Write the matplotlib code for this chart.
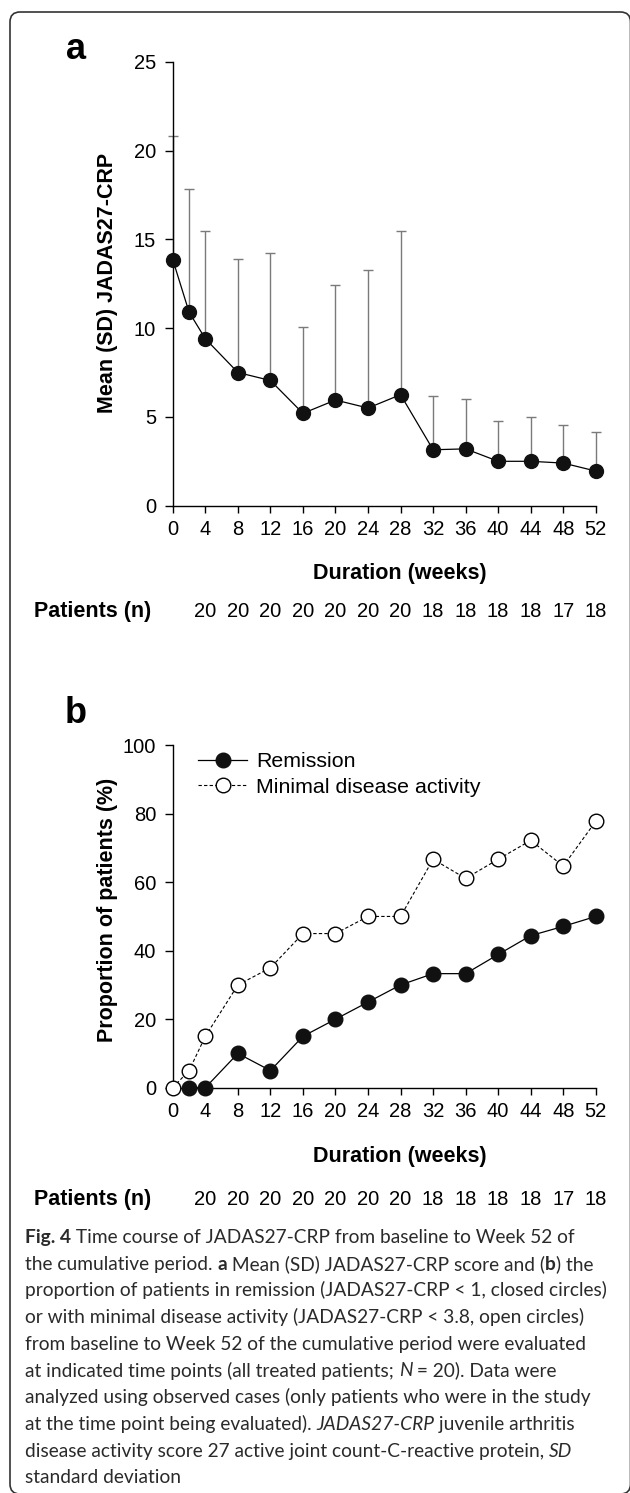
import numpy as np
import matplotlib.pyplot as plt
from matplotlib.patches import FancyBboxPatch
from matplotlib.transforms import blended_transform_factory, IdentityTransform

plt.rcParams['font.family'] = ['Liberation Sans', 'DejaVu Sans']

# data
weeks = [0, 2, 4, 8, 12, 16, 20, 24, 28, 32, 36, 40, 44, 48, 52]
jadas_mean = [13.85, 10.9, 9.4, 7.5, 7.05, 5.2, 5.95, 5.5, 6.25, 3.15, 3.2, 2.5, 2.5, 2.4, 1.95]
jadas_sd = [6.95, 6.95, 6.05, 6.4, 7.2, 4.85, 6.5, 7.75, 9.2, 3.05, 2.8, 2.25, 2.5, 2.15, 2.2]
remission_pct = [np.nan, 0, 0, 10, 5, 15, 20, 25, 30, 33.3, 33.3, 38.9, 44.4, 47.1, 50]
mda_pct = [0, 5, 15, 30, 35, 45, 45, 50, 50, 66.7, 61.1, 66.7, 72.2, 64.7, 77.8]
tick_weeks = [0, 4, 8, 12, 16, 20, 24, 28, 32, 36, 40, 44, 48, 52]
patient_weeks = [4, 8, 12, 16, 20, 24, 28, 32, 36, 40, 44, 48, 52]
patients_n = [20, 20, 20, 20, 20, 20, 20, 18, 18, 18, 18, 17, 18]

W, H = 630, 1493
fig = plt.figure(figsize=(W / 100, H / 100), dpi=100)
bold_size = 15.5


def fx(x):
    return x / W


def fy(y):
    return 1 - y / H


def style_axes(ax):
    for s in ['top', 'right']:
        ax.spines[s].set_visible(False)
    for s in ['left', 'bottom']:
        ax.spines[s].set_linewidth(1.0)
    ax.tick_params(axis='y', direction='out', length=6, width=1, pad=6, labelsize=14.5)
    ax.tick_params(axis='x', direction='out', length=5, width=1, pad=5, labelsize=14.5)
    ax.set_xlim(0, 52)
    ax.set_xticks(tick_weeks)


def patients_row(ax, y):
    tr = blended_transform_factory(ax.transData, fig.transFigure)
    fig.text(fx(34), fy(y), 'Patients (n)', fontsize=bold_size, fontweight='bold', va='baseline')
    for wk, n in zip(patient_weeks, patients_n):
        ax.text(wk, fy(y), str(n), transform=tr, ha='center', va='baseline', fontsize=14.5)


# panel a
ax_a = fig.add_axes([fx(172.8), fy(505.7), fx(423), 444 / H])
style_axes(ax_a)
ax_a.set_ylim(0, 25)
ax_a.set_yticks([0, 5, 10, 15, 20, 25])
ax_a.errorbar(weeks, jadas_mean, yerr=[np.zeros(len(jadas_sd)), jadas_sd], fmt='none',
              ecolor='#7a7a7a', elinewidth=1, capsize=3.6, capthick=1, zorder=2, clip_on=False)
ax_a.plot(weeks, jadas_mean, color='black', lw=0.9, marker='o', ms=10, mfc='#111111',
          mec='#111111', zorder=3, clip_on=False)
fig.text(fx(76), fy(59.3), 'a', fontsize=26, fontweight='bold', ha='center', va='baseline')
fig.text(fx(108), fy(283), 'Mean (SD) JADAS27-CRP', fontsize=bold_size, fontweight='bold',
         rotation=90, ha='center', va='center')
fig.text(fx(400), fy(579.3), 'Duration (weeks)', fontsize=bold_size, fontweight='bold',
         ha='center', va='baseline')
patients_row(ax_a, 616.7)

# panel b
ax_b = fig.add_axes([fx(172.8), fy(1087.7), fx(423), 342.5 / H])
style_axes(ax_b)
ax_b.set_ylim(0, 100)
ax_b.set_yticks([0, 20, 40, 60, 80, 100])
ax_b.plot(weeks, mda_pct, color='black', lw=0.8, ls=(0, (3, 2)), marker='o', ms=10.5,
          mfc='white', mec='black', mew=1, zorder=3, clip_on=False,
          label='Minimal disease activity')
ax_b.plot(weeks, remission_pct, color='black', lw=0.9, marker='o', ms=10.5, mfc='#111111',
          mec='#111111', zorder=4, clip_on=False, label='Remission')
handles, labels = ax_b.get_legend_handles_labels()
ax_b.legend(handles[::-1], labels[::-1], loc='upper left', bbox_to_anchor=(0.0596, 0.979),
            frameon=False, borderpad=0, borderaxespad=0, fontsize=15.4,
            handlelength=2.29, handletextpad=0.42, labelspacing=0.3, numpoints=1)
fig.text(fx(76), fy(722.7), 'b', fontsize=26, fontweight='bold', ha='center', va='baseline')
fig.text(fx(108), fy(910), 'Proportion of patients (%)', fontsize=bold_size, fontweight='bold',
         rotation=90, ha='center', va='center')
fig.text(fx(400), fy(1161.7), 'Duration (weeks)', fontsize=bold_size, fontweight='bold',
         ha='center', va='baseline')
patients_row(ax_b, 1205)

# caption, written segment by segment so bold / italic parts line up
cap_font = ['Lato', 'DejaVu Sans']
cap_size = 13.8
cap_color = '#2a2a2a'
caption = [
    [('Fig. 4', 'bold'), (' Time course of JADAS27-CRP from baseline to Week 52 of', '')],
    [('the cumulative period. ', ''), ('a', 'bold'), (' Mean (SD) JADAS27-CRP score and (', ''),
     ('b', 'bold'), (') the', '')],
    [('proportion of patients in remission (JADAS27-CRP < 1, closed circles)', '')],
    [('or with minimal disease activity (JADAS27-CRP < 3.8, open circles)', '')],
    [('from baseline to Week 52 of the cumulative period were evaluated', '')],
    [('at indicated time points (all treated patients; ', ''), ('N', 'italic'),
     (' = 20). Data were', '')],
    [('analyzed using observed cases (only patients who were in the study', '')],
    [('at the time point being evaluated). ', ''), ('JADAS27-CRP', 'italic'),
     (' juvenile arthritis', '')],
    [('disease activity score 27 active joint count-C-reactive protein, ', ''), ('SD', 'italic')],
    [('standard deviation', '')],
]

renderer = fig.canvas.get_renderer()


def text_kw(kind):
    kw = dict(family=cap_font, fontsize=cap_size, color=cap_color, va='baseline')
    if kind == 'bold':
        kw['fontweight'] = 'bold'
    if kind == 'italic':
        kw['fontstyle'] = 'italic'
    return kw


def seg_width(s, kind):
    t = fig.text(0, 0, '|' + s + '|', **text_kw(kind))
    w1 = t.get_window_extent(renderer).width
    t.set_text('||')
    w0 = t.get_window_extent(renderer).width
    t.remove()
    return w1 - w0


for i, line in enumerate(caption):
    x = 25
    y = 1243 + 26.7 * i
    for s, kind in line:
        fig.text(fx(x), fy(y), s, **text_kw(kind))
        x += seg_width(s, kind)

frame = FancyBboxPatch((10, H - 1494), 620.5, 1494 - 12, boxstyle='round,pad=0,rounding_size=10',
                       transform=IdentityTransform(), fill=False, edgecolor='#333333', lw=1.2)
fig.add_artist(frame)

fig.savefig('out.png', dpi=100)
